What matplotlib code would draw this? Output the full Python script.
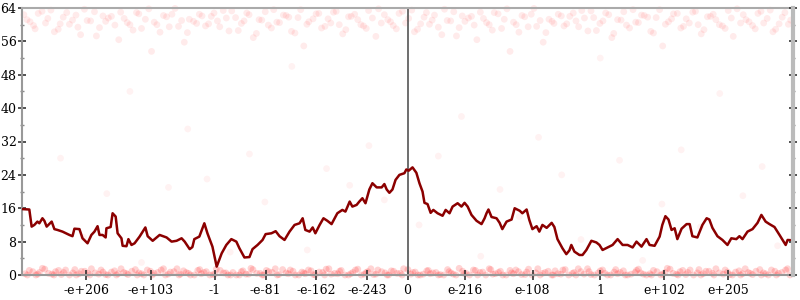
import numpy as np
from matplotlib import pyplot as plt
from matplotlib.ticker import MultipleLocator


# tick values on the bit-ordered axis of doubles
tick_values = [-1e206, -1e103, -1.0, -1e-81, -1e-162, -1e-243, 0.0,
               1e-216, 1e-108, 1.0, 1e102, 1e205]
tick_labels = ["-e+206", "-e+103", "-1", "-e-81", "-e-162", "-e-243", "0",
               "e-216", "e-108", "1", "e+102", "e+205"]

# averaged error (bits), x as fraction of the 64-bit pattern range
line_x = [-1.0, -0.981, -0.975, -0.968, -0.960, -0.955, -0.947, -0.942, -0.936, -0.923,
          -0.916, -0.908, -0.895, -0.877, -0.869, -0.864, -0.851, -0.843, -0.830, -0.820,
          -0.812, -0.804, -0.799, -0.791, -0.783, -0.781, -0.770, -0.765, -0.757, -0.752,
          -0.742, -0.739, -0.729, -0.724, -0.716, -0.708, -0.695, -0.680, -0.674, -0.661,
          -0.643, -0.625, -0.612, -0.599, -0.586, -0.578, -0.565, -0.558, -0.553, -0.540,
          -0.527, -0.519, -0.506, -0.495, -0.482, -0.470, -0.457, -0.444, -0.436, -0.423,
          -0.410, -0.402, -0.389, -0.376, -0.368, -0.353, -0.342, -0.332, -0.319, -0.306,
          -0.293, -0.280, -0.272, -0.265, -0.254, -0.246, -0.239, -0.228, -0.218, -0.208,
          -0.197, -0.189, -0.182, -0.169, -0.161, -0.150, -0.143, -0.132, -0.125, -0.117,
          -0.109, -0.099, -0.091, -0.080, -0.067, -0.060, -0.054, -0.047, -0.039, -0.031,
          -0.021, -0.008, -0.003,
          0.003, 0.013, 0.023, 0.031, 0.039, 0.044, 0.052, 0.060, 0.067, 0.078,
          0.091, 0.099, 0.109, 0.117, 0.130, 0.140, 0.148, 0.156, 0.166, 0.179,
          0.192, 0.200, 0.205, 0.210, 0.218, 0.231, 0.239, 0.246, 0.257, 0.270,
          0.278, 0.291, 0.298, 0.309, 0.316, 0.324, 0.335, 0.342, 0.350, 0.361,
          0.374, 0.381, 0.389, 0.402, 0.412, 0.420, 0.425, 0.433, 0.446, 0.454,
          0.464, 0.477, 0.490, 0.498, 0.506, 0.519, 0.532, 0.545, 0.558, 0.571,
          0.584, 0.594, 0.607, 0.620, 0.628, 0.641, 0.654, 0.661, 0.669, 0.677,
          0.685, 0.693, 0.700, 0.711, 0.724, 0.732, 0.739, 0.752, 0.765, 0.776,
          0.783, 0.791, 0.804, 0.817, 0.830, 0.840, 0.853, 0.861, 0.869, 0.882,
          0.895, 0.908, 0.918, 0.929, 0.939, 0.952, 0.965, 0.981, 0.986, 1.0]
line_y = [15.8, 15.7, 11.6, 12.0, 12.8, 12.4, 13.6, 13.0, 11.6, 12.8,
          11.0, 10.8, 10.4, 9.6, 9.3, 11.1, 11.0, 8.8, 7.6, 9.6,
          10.4, 11.7, 9.6, 9.6, 9.0, 11.2, 11.5, 14.8, 14.0, 10.0,
          8.8, 7.0, 6.9, 8.6, 7.2, 7.6, 9.2, 11.4, 9.3, 8.2,
          9.6, 9.0, 8.0, 8.2, 8.8, 8.0, 6.2, 6.7, 8.6, 9.2,
          12.4, 10.0, 6.8, 2.0, 5.2, 7.2, 8.6, 8.0, 6.4, 4.2,
          4.3, 6.2, 7.2, 8.4, 9.8, 10.0, 10.5, 9.3, 8.4, 10.4,
          12.0, 12.4, 13.6, 10.8, 10.4, 11.4, 10.0, 12.0, 13.6, 13.0,
          12.2, 13.6, 14.8, 15.6, 15.2, 17.6, 16.4, 16.8, 17.6, 18.4,
          17.2, 20.5, 22.0, 21.0, 21.0, 21.8, 20.5, 19.7, 20.5, 22.8,
          24.0, 24.4, 25.3,
          25.0, 25.8, 24.5, 22.0, 20.0, 17.3, 17.0, 14.9, 15.6, 14.8,
          14.2, 15.6, 14.8, 16.4, 17.2, 16.4, 17.3, 16.4, 14.4, 13.0,
          12.2, 13.6, 14.8, 15.7, 13.9, 13.6, 12.5, 11.0, 12.8, 13.3,
          16.0, 15.4, 14.8, 15.7, 13.2, 11.0, 11.7, 10.4, 12.0, 11.3,
          12.5, 11.5, 8.6, 6.4, 5.0, 5.9, 7.2, 5.6, 4.8, 4.8,
          6.0, 8.2, 7.8, 7.2, 6.0, 6.6, 7.2, 8.6, 7.2, 7.2,
          6.6, 8.0, 6.8, 8.6, 7.2, 7.0, 9.2, 12.0, 14.1, 13.3,
          10.8, 11.2, 8.6, 11.1, 12.2, 12.2, 9.3, 9.0, 12.0, 13.6,
          13.3, 11.3, 9.3, 8.4, 7.2, 8.8, 8.6, 9.3, 8.6, 10.4,
          11.0, 12.5, 14.4, 12.8, 12.2, 11.5, 9.6, 7.2, 8.4, 8.3]

# individual samples near zero error
low_pts = [
    (-0.992, 0.3), (-0.981, 1.1), (-0.964, 0.0), (-0.955, 0.6), (-0.941, 1.4),
    (-0.922, 0.2), (-0.913, 0.8), (-0.898, 0.1), (-0.887, 1.2), (-0.868, 0.5),
    (-0.859, 0.0), (-0.846, 0.9), (-0.829, 0.4), (-0.820, 1.5), (-0.801, 0.2),
    (-0.790, 0.7), (-0.777, 0.0), (-0.760, 1.0), (-0.751, 0.3), (-0.736, 0.6),
    (-0.725, 0.1), (-0.706, 1.3), (-0.697, 0.5), (-0.684, 0.0), (-0.667, 0.9),
    (-0.658, 0.4), (-0.639, 1.2), (-0.628, 0.0), (-0.615, 0.7), (-0.598, 1.5),
    (-0.589, 0.2), (-0.574, 0.6), (-0.563, 0.0), (-0.544, 1.1), (-0.535, 0.3),
    (-0.522, 0.8), (-0.505, 0.1), (-0.496, 1.4), (-0.477, 0.5), (-0.466, 0.0),
    (-0.453, 0.6), (-0.436, 0.0), (-0.427, 1.0), (-0.412, 0.2), (-0.401, 1.3),
    (-0.382, 0.4), (-0.373, 0.0), (-0.360, 0.8), (-0.343, 1.5), (-0.334, 0.1),
    (-0.315, 0.5), (-0.304, 1.2), (-0.291, 0.0), (-0.274, 0.7), (-0.265, 0.3),
    (-0.250, 1.0), (-0.239, 0.0), (-0.220, 0.6), (-0.211, 1.4), (-0.198, 0.2),
    (-0.181, 0.3), (-0.172, 1.1), (-0.153, 0.0), (-0.142, 0.6), (-0.129, 1.4),
    (-0.112, 0.2), (-0.103, 0.8), (-0.088, 0.1), (-0.077, 1.2), (-0.058, 0.5),
    (-0.049, 0.0), (-0.036, 0.9), (-0.019, 0.4), (-0.010, 1.5), (0.009, 0.2),
    (0.020, 0.7), (0.033, 0.0), (0.050, 1.0), (0.059, 0.3), (0.074, 0.6),
    (0.085, 0.1), (0.104, 1.3), (0.113, 0.5), (0.126, 0.0), (0.143, 0.9),
    (0.152, 0.4), (0.171, 1.2), (0.182, 0.0), (0.195, 0.7), (0.212, 1.5),
    (0.221, 0.2), (0.236, 0.6), (0.247, 0.0), (0.266, 1.1), (0.275, 0.3),
    (0.288, 0.8), (0.305, 0.1), (0.314, 1.4), (0.333, 0.5), (0.344, 0.0),
    (0.357, 0.6), (0.374, 0.0), (0.383, 1.0), (0.398, 0.2), (0.409, 1.3),
    (0.428, 0.4), (0.437, 0.0), (0.450, 0.8), (0.467, 1.5), (0.476, 0.1),
    (0.495, 0.5), (0.506, 1.2), (0.519, 0.0), (0.536, 0.7), (0.545, 0.3),
    (0.560, 1.0), (0.571, 0.0), (0.590, 0.6), (0.599, 1.4), (0.612, 0.2),
    (0.629, 0.3), (0.638, 1.1), (0.657, 0.0), (0.668, 0.6), (0.681, 1.4),
    (0.698, 0.2), (0.707, 0.8), (0.722, 0.1), (0.733, 1.2), (0.752, 0.5),
    (0.761, 0.0), (0.774, 0.9), (0.791, 0.4), (0.800, 1.5), (0.819, 0.2),
    (0.830, 0.7), (0.843, 0.0), (0.860, 1.0), (0.869, 0.3), (0.884, 0.6),
    (0.895, 0.1), (0.914, 1.3), (0.923, 0.5), (0.936, 0.0), (0.953, 0.9),
    (0.962, 0.4), (0.981, 1.2), (0.992, 0.0),
    (-0.986, 0.0), (-0.972, 0.8), (-0.959, 0.2), (-0.947, 1.6), (-0.931, 0.4),
    (-0.917, 0.0), (-0.905, 1.1), (-0.892, 0.6), (-0.877, 0.0), (-0.863, 1.3),
    (-0.852, 0.3), (-0.837, 0.9), (-0.824, 0.0), (-0.810, 0.5), (-0.795, 1.2),
    (-0.783, 0.1), (-0.768, 0.7), (-0.755, 0.0), (-0.743, 1.5), (-0.730, 0.4),
    (-0.715, 0.9), (-0.701, 0.0), (-0.690, 0.3), (-0.675, 1.2), (-0.662, 0.0),
    (-0.648, 0.6), (-0.633, 1.5), (-0.621, 0.2), (-0.606, 0.8), (-0.593, 0.0),
    (-0.581, 1.0), (-0.568, 0.4), (-0.553, 0.0), (-0.539, 1.3), (-0.528, 0.6),
    (-0.513, 0.0), (-0.500, 0.2), (-0.486, 1.1), (-0.471, 0.5), (-0.459, 0.0),
    (-0.444, 0.0), (-0.431, 0.8), (-0.419, 0.2), (-0.406, 1.6), (-0.391, 0.4),
    (-0.377, 0.0), (-0.366, 1.1), (-0.351, 0.6), (-0.338, 0.0), (-0.324, 1.3),
    (-0.309, 0.3), (-0.297, 0.9), (-0.282, 0.0), (-0.269, 0.5), (-0.257, 1.2),
    (-0.244, 0.1), (-0.229, 0.7), (-0.215, 0.0), (-0.204, 1.5), (-0.189, 0.4),
    (-0.176, 0.9), (-0.162, 0.0), (-0.147, 0.3), (-0.135, 1.2), (-0.120, 0.0),
    (-0.107, 0.6), (-0.095, 1.5), (-0.082, 0.2), (-0.067, 0.8), (-0.053, 0.0),
    (-0.042, 1.0), (-0.027, 0.4), (-0.014, 0.0), (0.001, 1.3), (0.014, 0.6),
    (0.027, 0.0), (0.041, 0.2), (0.054, 1.1), (0.066, 0.5), (0.080, 0.0),
    (0.094, 0.0), (0.108, 0.8), (0.119, 0.2), (0.134, 1.6), (0.147, 0.4),
    (0.161, 0.0), (0.176, 1.1), (0.188, 0.6), (0.203, 0.0), (0.216, 1.3),
    (0.228, 0.3), (0.241, 0.9), (0.256, 0.0), (0.270, 0.5), (0.281, 1.2),
    (0.296, 0.1), (0.309, 0.7), (0.323, 0.0), (0.338, 1.5), (0.350, 0.4),
    (0.365, 0.9), (0.378, 0.0), (0.390, 0.3), (0.403, 1.2), (0.418, 0.0),
    (0.432, 0.6), (0.443, 1.5), (0.458, 0.2), (0.471, 0.8), (0.485, 0.0),
    (0.500, 1.0), (0.512, 0.4), (0.527, 0.0), (0.540, 1.3), (0.552, 0.6),
    (0.565, 0.0), (0.580, 0.2), (0.594, 1.1), (0.605, 0.5), (0.620, 0.0),
    (0.633, 0.0), (0.647, 0.8), (0.662, 0.2), (0.674, 1.6), (0.689, 0.4),
    (0.702, 0.0), (0.714, 1.1), (0.727, 0.6), (0.742, 0.0), (0.756, 1.3),
    (0.767, 0.3), (0.782, 0.9), (0.795, 0.0), (0.809, 0.5), (0.824, 1.2),
    (0.836, 0.1), (0.851, 0.7), (0.864, 0.0), (0.876, 1.5), (0.889, 0.4),
    (0.904, 0.9), (0.918, 0.0), (0.929, 0.3), (0.944, 1.2), (0.957, 0.0),
    (0.971, 0.6), (0.986, 1.5),
]

# individual samples with near-total error
high_pts = [
    (-0.987, 61.2), (-0.970, 59.8), (-0.958, 62.7), (-0.939, 60.4), (-0.925, 63.5),
    (-0.906, 58.9), (-0.893, 61.8), (-0.877, 60.1), (-0.860, 62.3), (-0.848, 57.6),
    (-0.831, 61.0), (-0.812, 63.1), (-0.799, 59.3), (-0.783, 60.8), (-0.768, 62.0),
    (-0.749, 56.4), (-0.735, 61.5), (-0.720, 60.0), (-0.703, 62.9), (-0.690, 59.1),
    (-0.671, 63.8), (-0.657, 60.6), (-0.642, 58.2), (-0.625, 61.9), (-0.611, 62.5),
    (-0.594, 59.6), (-0.579, 55.8), (-0.566, 61.3), (-0.547, 60.3), (-0.533, 62.1),
    (-0.516, 60.2), (-0.502, 62.8), (-0.487, 59.5), (-0.470, 61.6), (-0.456, 63.3),
    (-0.439, 58.6), (-0.424, 60.9), (-0.411, 62.4), (-0.392, 57.9), (-0.378, 61.1),
    (-0.361, 59.9), (-0.347, 63.6), (-0.332, 60.5), (-0.315, 62.2), (-0.301, 58.4),
    (-0.284, 61.7), (-0.269, 54.9), (-0.256, 60.7), (-0.237, 62.6), (-0.223, 59.2),
    (-0.206, 61.4), (-0.192, 63.0), (-0.177, 60.0), (-0.160, 58.8), (-0.146, 62.0),
    (-0.129, 61.2), (-0.114, 59.7), (-0.101, 63.4), (-0.082, 57.2), (-0.068, 60.4),
    (-0.051, 61.2), (-0.037, 59.8), (-0.022, 62.7), (-0.005, 60.4), (0.011, 63.5),
    (0.026, 58.9), (0.043, 61.8), (0.057, 60.1), (0.070, 62.3), (0.089, 57.6),
    (0.103, 61.0), (0.120, 63.1), (0.134, 59.3), (0.149, 60.8), (0.166, 62.0),
    (0.180, 56.4), (0.197, 61.5), (0.212, 60.0), (0.225, 62.9), (0.244, 59.1),
    (0.258, 63.8), (0.275, 60.6), (0.289, 58.2), (0.304, 61.9), (0.321, 62.5),
    (0.335, 59.6), (0.352, 55.8), (0.367, 61.3), (0.380, 60.3), (0.399, 62.1),
    (0.413, 60.2), (0.430, 62.8), (0.444, 59.5), (0.459, 61.6), (0.476, 63.3),
    (0.490, 58.6), (0.507, 60.9), (0.522, 62.4), (0.535, 57.9), (0.554, 61.1),
    (0.568, 59.9), (0.585, 63.6), (0.599, 60.5), (0.614, 62.2), (0.631, 58.4),
    (0.645, 61.7), (0.662, 54.9), (0.677, 60.7), (0.690, 62.6), (0.709, 59.2),
    (0.723, 61.4), (0.740, 63.0), (0.754, 60.0), (0.769, 58.8), (0.786, 62.0),
    (0.800, 61.2), (0.817, 59.7), (0.832, 63.4), (0.845, 57.2), (0.864, 60.4),
    (0.878, 61.2), (0.895, 59.8), (0.909, 62.7), (0.924, 60.4), (0.941, 63.5),
    (0.955, 58.9), (0.972, 61.8), (0.988, 60.1),
    (-0.995, 62.4), (-0.979, 60.7), (-0.966, 59.0), (-0.948, 63.2), (-0.933, 61.5),
    (-0.916, 58.3), (-0.901, 60.2), (-0.884, 62.9), (-0.869, 61.1), (-0.855, 59.4),
    (-0.838, 63.7), (-0.822, 60.9), (-0.807, 57.3), (-0.790, 62.1), (-0.776, 61.6),
    (-0.759, 59.9), (-0.744, 63.0), (-0.727, 60.5), (-0.712, 58.7), (-0.697, 62.6),
    (-0.680, 61.3), (-0.664, 53.6), (-0.650, 60.0), (-0.633, 62.2), (-0.618, 59.5),
    (-0.603, 63.9), (-0.586, 61.0), (-0.571, 58.1), (-0.555, 60.8), (-0.540, 62.5),
    (-0.524, 59.7), (-0.509, 62.0), (-0.493, 60.9), (-0.478, 63.4), (-0.463, 58.5),
    (-0.446, 61.7), (-0.431, 60.3), (-0.417, 62.8), (-0.400, 56.9), (-0.385, 61.2),
    (-0.369, 63.1), (-0.353, 59.2), (-0.339, 60.6), (-0.322, 62.3), (-0.308, 61.8),
    (-0.292, 58.0), (-0.277, 63.6), (-0.261, 60.1), (-0.245, 61.4), (-0.230, 62.7),
    (-0.214, 59.6), (-0.199, 60.4), (-0.185, 63.2), (-0.168, 57.8), (-0.153, 61.9),
    (-0.137, 62.5), (-0.121, 60.0), (-0.107, 59.1), (-0.091, 61.6), (-0.075, 63.8),
    (-0.060, 62.4), (-0.044, 60.7), (-0.029, 59.0), (-0.013, 63.2), (0.003, 61.5),
    (0.018, 58.3), (0.034, 60.2), (0.049, 62.9), (0.064, 61.1), (0.080, 59.4),
    (0.096, 63.7), (0.112, 60.9), (0.127, 57.3), (0.142, 62.1), (0.158, 61.6),
    (0.173, 59.9), (0.189, 63.0), (0.205, 60.5), (0.220, 58.7), (0.235, 62.6),
    (0.251, 61.3), (0.266, 53.6), (0.282, 60.0), (0.297, 62.2), (0.313, 59.5),
    (0.328, 63.9), (0.344, 61.0), (0.359, 58.1), (0.375, 60.8), (0.391, 62.5),
    (0.406, 59.7), (0.421, 62.0), (0.437, 60.9), (0.452, 63.4), (0.468, 58.5),
    (0.483, 61.7), (0.499, 60.3), (0.514, 62.8), (0.530, 56.9), (0.545, 61.2),
    (0.561, 63.1), (0.576, 59.2), (0.592, 60.6), (0.607, 62.3), (0.623, 61.8),
    (0.638, 58.0), (0.654, 63.6), (0.669, 60.1), (0.685, 61.4), (0.700, 62.7),
    (0.716, 59.6), (0.731, 60.4), (0.747, 63.2), (0.762, 57.8), (0.778, 61.9),
    (0.793, 62.5), (0.809, 60.0), (0.824, 59.1), (0.840, 61.6), (0.855, 63.8),
    (0.871, 62.4), (0.886, 60.7), (0.902, 59.0), (0.917, 63.2), (0.933, 61.5),
    (0.948, 58.3), (0.964, 60.2), (0.979, 62.9), (0.994, 61.1),
]

# scattered samples in between
mid_pts = [
    (-0.90, 28.0), (-0.84, 9.0), (-0.78, 19.5), (-0.72, 44.0), (-0.69, 3.0),
    (-0.62, 21.0), (-0.57, 35.0), (-0.52, 23.0), (-0.46, 5.5), (-0.41, 29.0),
    (-0.37, 17.5), (-0.30, 50.0), (-0.26, 6.0), (-0.21, 25.5), (-0.15, 21.5),
    (-0.10, 31.0), (-0.06, 18.0), (0.03, 12.0), (0.08, 28.5), (0.14, 38.0),
    (0.19, 4.5), (0.24, 20.5), (0.29, 14.0), (0.34, 33.0), (0.40, 24.0),
    (0.45, 8.5), (0.50, 52.0), (0.55, 27.5), (0.61, 3.5), (0.66, 17.0),
    (0.71, 30.0), (0.76, 11.5), (0.81, 43.5), (0.87, 19.0), (0.92, 26.0),
    (0.96, 7.0),
]


def bit_position(v):
    # position of a double in bit-pattern order, scaled to [-1, 1]
    b = np.array([abs(v)], dtype=np.float64).view(np.int64)[0]
    return np.sign(v) * b / 2.0**63


tick_pos = [bit_position(v) for v in tick_values]

plt.rcParams['font.family'] = ['DejaVu Serif']

fig = plt.figure(figsize=(8, 3), dpi=100)
ax = fig.add_axes([22 / 800, 25 / 300, 771 / 800, 267 / 300])
ax.set_xlim(-1, 1)
ax.set_ylim(0, 64)

for pts, a in [(low_pts, 0.17), (high_pts, 0.08), (mid_pts, 0.05)]:
    px, py = zip(*pts)
    ax.scatter(px, py, s=24, color='red', alpha=a, edgecolors='none',
               clip_on=False, zorder=1)

ax.plot(line_x, line_y, color='#8b0000', lw=1.8, zorder=3)

# spines: frame plus a vertical axis through zero
ax.spines['left'].set_color('#999999')
ax.spines['left'].set_linewidth(1.5)
ax.spines['top'].set_color('#aaaaaa')
ax.spines['top'].set_linewidth(1.5)
ax.spines['bottom'].set_color('#999999')
ax.spines['bottom'].set_linewidth(1.5)
ax.spines['right'].set_position(('data', 0))
ax.spines['right'].set_color('#555555')
ax.spines['right'].set_linewidth(1.2)

ax.yaxis.set_major_locator(MultipleLocator(8))
ax.yaxis.set_minor_locator(MultipleLocator(4))
ax.yaxis.set_ticks_position('both')
ax.tick_params(axis='y', which='major', direction='inout', length=6, width=1.2,
               color='#333333', labelsize=9, pad=1, labelright=False)
ax.tick_params(axis='y', which='minor', direction='inout', length=3.5, width=1,
               color='#888888')

ax.set_xticks(tick_pos)
ax.set_xticklabels(tick_labels)
ax.tick_params(axis='x', direction='inout', length=7, width=1.2,
               color='#333333', labelsize=9, pad=3)

ax2 = ax.twinx()
ax2.set_ylim(0, 64)
for s in ['left', 'top', 'bottom']:
    ax2.spines[s].set_visible(False)
ax2.spines['right'].set_color('#bbbbbb')
ax2.spines['right'].set_linewidth(3)
ax2.yaxis.set_major_locator(MultipleLocator(8))
ax2.yaxis.set_minor_locator(MultipleLocator(4))
ax2.tick_params(axis='y', which='major', direction='inout', length=6, width=1.2,
                color='#333333', labelright=False)
ax2.tick_params(axis='y', which='minor', direction='inout', length=3.5, width=1,
                color='#888888')

fig.savefig("out.png")
